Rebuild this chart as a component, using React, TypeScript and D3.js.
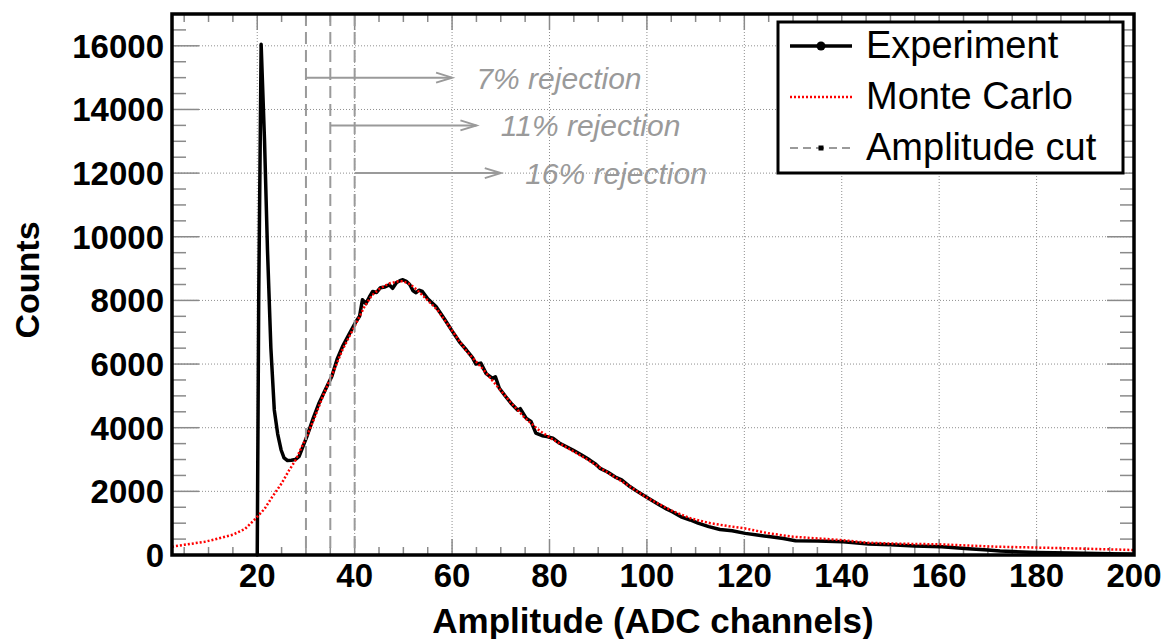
import React from "react";
import * as d3 from "d3";

// ---------- data ----------
const expX = [19.8, 20.0, 20.3, 20.8, 21.5, 22.1, 22.8, 23.5, 24.2, 24.9, 25.5, 26.2, 27.0, 27.8, 28.6, 29.5, 30.3, 31.5, 32.7, 34.0, 35.3, 36.4, 37.5, 38.9, 40.3, 41.0, 41.6, 42.3, 43.0, 43.7, 44.5, 45.3, 46.2, 47.1, 47.8, 48.6, 49.3, 49.9, 50.6, 51.3, 52.0, 52.6, 53.2, 53.9, 55.0, 56.7, 58.5, 60.1, 61.5, 62.9, 64.2, 64.9, 65.9, 67.0, 68.3, 68.9, 69.7, 71.0, 72.1, 73.5, 74.0, 75.2, 76.2, 77.2, 78.5, 79.5, 80.7, 82.0, 83.5, 84.8, 86.5, 88.2, 89.5, 90.3, 92.0, 93.5, 94.8, 96.5, 98.0, 100.3, 102.5, 104.0, 105.2, 107.0, 108.9, 110.5, 112.7, 115.0, 117.5, 120.2, 123.0, 125.4, 128.0, 130.5, 135.0, 140.3, 145.5, 150.0, 155.0, 160.5, 166.0, 170.0, 172.5, 180.0, 187.0, 195.0, 200.0];
const expY = [0, 0, 8000, 16050, 13000, 9600, 6500, 4560, 3800, 3300, 3050, 2970, 2980, 3000, 3100, 3450, 3770, 4300, 4780, 5200, 5610, 6150, 6550, 6950, 7340, 7500, 8020, 7900, 8100, 8280, 8250, 8400, 8420, 8490, 8380, 8560, 8620, 8650, 8600, 8500, 8300, 8240, 8320, 8280, 8050, 7810, 7400, 7020, 6700, 6450, 6200, 6000, 6030, 5700, 5550, 5600, 5240, 4980, 4770, 4550, 4600, 4300, 4200, 3830, 3750, 3720, 3670, 3520, 3400, 3300, 3150, 2990, 2850, 2730, 2600, 2450, 2360, 2150, 2000, 1780, 1580, 1450, 1360, 1200, 1100, 1000, 890, 800, 760, 680, 620, 575, 520, 450, 440, 420, 345, 320, 280, 260, 200, 160, 125, 80, 60, 40, 30];

const mcX = [2.5, 5, 9.4, 12, 15, 17.5, 19.7, 21.5, 23.1, 25, 26.5, 27.9, 29, 30.3, 32, 33.5, 35.5, 37.5, 40.3, 42, 43.5, 45, 47, 49, 50, 51.5, 53, 55, 57, 60, 63, 66, 69, 72, 75, 78, 81, 85, 88, 91, 95, 100, 105, 109, 113, 117, 120, 125, 130, 135, 140, 145, 150, 160, 172, 187, 200];
const mcY = [260, 320, 420, 520, 640, 820, 1150, 1450, 1830, 2250, 2650, 2990, 3350, 3770, 4400, 5000, 5710, 6450, 7280, 7800, 8150, 8350, 8530, 8600, 8600, 8500, 8300, 8000, 7700, 7050, 6400, 5900, 5350, 4800, 4300, 3900, 3600, 3250, 2980, 2680, 2300, 1800, 1400, 1150, 1000, 900, 840, 680, 575, 520, 470, 390, 360, 335, 260, 210, 157];

const cutValues = [30, 35, 40];
const arrowLevels = [15000, 13500, 12000];
const rejectionLabels = ["7% rejection", "11% rejection", "16% rejection"];

const xMajorTicks = [20, 40, 60, 80, 100, 120, 140, 160, 180, 200];
const yMajorTicks = [0, 2000, 4000, 6000, 8000, 10000, 12000, 14000, 16000];
const legendLabels = ["Experiment", "Monte Carlo", "Amplitude cut"];

const X_DOMAIN: [number, number] = [2.5, 200];
const Y_DOMAIN: [number, number] = [0, 17000];

// ---------- layout ----------
const W = 1167;
const H = 639;
const L = 172, R = 1134, T = 14, B = 555;
const FONT = "'Liberation Sans', Arial, Helvetica, sans-serif";
const TICK = "#8a8a8a";
const GREY = "#9a9a9a";

export default function App() {
  const x = d3.scaleLinear().domain(X_DOMAIN).range([L, R]);
  const y = d3.scaleLinear().domain(Y_DOMAIN).range([B, T]);

  const xMinor = d3.range(5, 200.01, 5).filter((v) => v % 20 !== 0);
  const yMinor = d3.range(500, 17000.01, 500).filter((v) => v % 2000 !== 0);

  const line = d3
    .line<[number, number]>()
    .x((d) => x(d[0]))
    .y((d) => y(d[1]));

  const expPath = line(expX.map((v, i) => [v, expY[i]] as [number, number])) || "";
  const mcPath = line(mcX.map((v, i) => [v, mcY[i]] as [number, number])) || "";

  const legX0 = 778, legY0 = 22, legW = 345, legH = 151;
  const rowY = [46, 97, 148];

  return (
    <svg
      width={W}
      height={H}
      style={{ position: "absolute", left: 0, top: 0, display: "block", background: "#fff" }}
      fontFamily={FONT}
    >
      <rect x={0} y={0} width={W} height={H} fill="#fff" />
      {/* grid */}
      <g stroke="#8f8f8f" strokeWidth={1} strokeDasharray="1,2">
        {xMajorTicks.filter((v) => v < 200).map((v) => (
          <line key={"gx" + v} x1={x(v)} x2={x(v)} y1={T} y2={B} />
        ))}
        {yMajorTicks.filter((v) => v > 0).map((v) => (
          <line key={"gy" + v} x1={L} x2={R} y1={y(v)} y2={y(v)} />
        ))}
      </g>

      {/* ticks */}
      <g stroke={TICK} strokeWidth={1.5}>
        {xMajorTicks.map((v) => (
          <g key={"xt" + v}>
            <line x1={x(v)} x2={x(v)} y1={B} y2={B - 16} />
            <line x1={x(v)} x2={x(v)} y1={T} y2={T + 16} />
          </g>
        ))}
        {xMinor.map((v) => (
          <g key={"xm" + v}>
            <line x1={x(v)} x2={x(v)} y1={B} y2={B - 8} />
            <line x1={x(v)} x2={x(v)} y1={T} y2={T + 8} />
          </g>
        ))}
        {yMajorTicks.map((v) => (
          <g key={"yt" + v}>
            <line x1={L} x2={L + 27} y1={y(v)} y2={y(v)} />
            <line x1={R} x2={R - 27} y1={y(v)} y2={y(v)} />
          </g>
        ))}
        {yMinor.map((v) => (
          <g key={"ym" + v}>
            <line x1={L} x2={L + 14} y1={y(v)} y2={y(v)} />
            <line x1={R} x2={R - 14} y1={y(v)} y2={y(v)} />
          </g>
        ))}
      </g>

      {/* experiment */}
      <path d={expPath} fill="none" stroke="#000" strokeWidth={3.5} strokeLinejoin="round" />
      {/* monte carlo */}
      <path d={mcPath} fill="none" stroke="#ff0000" strokeWidth={2.5} strokeDasharray="2,2" />

      {/* amplitude cuts */}
      <g stroke={GREY} strokeWidth={2} fill="none">
        {cutValues.map((c) => (
          <line key={"c" + c} x1={x(c)} x2={x(c)} y1={T} y2={B} strokeDasharray="12,6" />
        ))}
        {cutValues.map((c, i) => {
          const tip = x(c + 30);
          const yy = y(arrowLevels[i]);
          return (
            <g key={"a" + c}>
              <line x1={x(c)} x2={tip} y1={yy} y2={yy} />
              <polyline points={`${tip - 16},${yy - 5} ${tip},${yy} ${tip - 16},${yy + 5}`} />
            </g>
          );
        })}
      </g>
      {cutValues.map((c, i) => (
        <text
          key={"t" + c}
          x={x(c + 35)}
          y={y(arrowLevels[i]) + 11}
          fontSize={30}
          fontStyle="italic"
          fill={GREY}
        >
          {rejectionLabels[i]}
        </text>
      ))}

      {/* frame */}
      <rect x={L} y={T} width={R - L} height={B - T} fill="none" stroke="#000" strokeWidth={3.5} />

      {/* tick labels */}
      <g fontSize={33} fontWeight="bold" fill="#000">
        {xMajorTicks.map((v) => (
          <text key={"xl" + v} x={x(v)} y={587} textAnchor="middle">
            {v}
          </text>
        ))}
        {yMajorTicks.map((v) => (
          <text key={"yl" + v} x={164} y={y(v) + 12} textAnchor="end">
            {v}
          </text>
        ))}
      </g>

      {/* axis titles */}
      <text x={(L + R) / 2} y={633} textAnchor="middle" fontSize={35} fontWeight="bold">
        Amplitude (ADC channels)
      </text>
      <text
        transform={`translate(39, 280) rotate(-90)`}
        textAnchor="middle"
        fontSize={34}
        fontWeight="bold"
      >
        Counts
      </text>

      {/* legend */}
      <rect x={legX0} y={legY0} width={legW} height={legH} fill="#fff" stroke="#000" strokeWidth={3} />
      <line x1={790} x2={852} y1={rowY[0]} y2={rowY[0]} stroke="#000" strokeWidth={3.5} />
      <circle cx={821} cy={rowY[0]} r={4.5} fill="#000" />
      <line x1={790} x2={852} y1={rowY[1]} y2={rowY[1]} stroke="#ff0000" strokeWidth={2.5} strokeDasharray="2,2" />
      <line x1={790} x2={852} y1={rowY[2]} y2={rowY[2]} stroke={GREY} strokeWidth={2} strokeDasharray="8,5" />
      <rect x={818.5} y={rowY[2] - 2.5} width={5} height={5} fill="#000" />
      {legendLabels.map((t, i) => (
        <text key={t} x={866} y={rowY[i] + 12} fontSize={38} fill="#000">
          {t}
        </text>
      ))}
    </svg>
  );
}
